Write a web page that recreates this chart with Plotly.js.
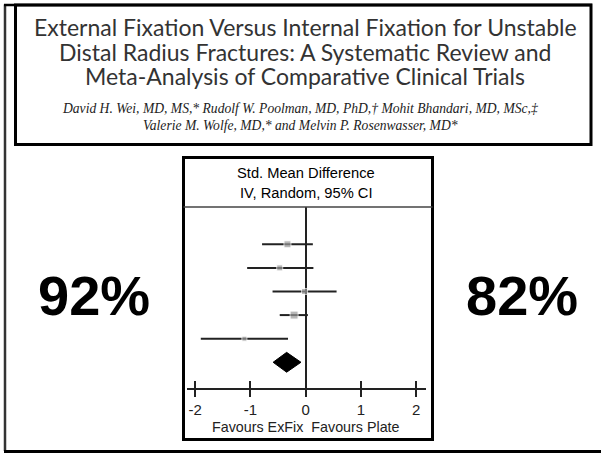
<!DOCTYPE html>
<html>
<head>
<meta charset="utf-8">
<script src="https://cdn.plot.ly/plotly-3.0.1.min.js"></script>
<style>html,body{margin:0;padding:0;background:#fff;}#chart{width:601px;height:453px;}</style>
</head>
<body>
<div id="chart"></div>
<script>
// ---- data ----
const titleLines = [
  "External Fixation Versus Internal Fixation for Unstable",
  "Distal Radius Fractures: A Systematic Review and",
  "Meta-Analysis of Comparative Clinical Trials"
];
const authorLines = [
  "David H. Wei, MD, MS,* Rudolf W. Poolman, MD, PhD,† Mohit Bhandari, MD, MSc,‡",
  "Valerie M. Wolfe, MD,* and Melvin P. Rosenwasser, MD*"
];
const headerLines = ["Std. Mean Difference", "IV, Random, 95% CI"];
const footerLabel = "Favours ExFix  Favours Plate";
const leftPct = "92%";
const rightPct = "82%";

const studyRow = [1, 2, 3, 4, 5];
const studySMD = [-0.33, -0.47, -0.02, -0.21, -1.11];
const studyLow = [-0.79, -1.06, -0.60, -0.47, -1.90];
const studyHigh = [0.13, 0.14, 0.56, 0.04, -0.32];
const studyWeightSize = [7, 6, 6, 8, 5];

const pooledRow = 6;
const pooledSMD = -0.345;
const pooledLow = -0.59;
const pooledHigh = -0.085;

const xTickVals = [-2, -1, 0, 1, 2];
const xTickText = ["-2", "-1", "0", "1", "2"];

// ---- helpers (pixel -> paper) ----
const W = 601, H = 453;
const X = px => px / W;
const Y = py => 1 - py / H;

const sans = "Liberation Sans, Arial, sans-serif";

const ciTrace = {
  type: "scatter", mode: "markers",
  x: studySMD, y: studyRow,
  marker: {symbol: "square", size: studyWeightSize, color: "#9a9a9a"},
  error_x: {
    type: "data", symmetric: false,
    array: studySMD.map((v, i) => studyHigh[i] - v),
    arrayminus: studySMD.map((v, i) => v - studyLow[i]),
    color: "#222", thickness: 2, width: 0
  },
  hoverinfo: "skip", showlegend: false
};

const dh = 0.42;
const diamond = {
  type: "scatter", mode: "lines",
  x: [pooledLow, pooledSMD, pooledHigh, pooledSMD, pooledLow],
  y: [pooledRow, pooledRow - dh, pooledRow, pooledRow + dh, pooledRow],
  fill: "toself", fillcolor: "#000", line: {color: "#000", width: 1},
  hoverinfo: "skip", showlegend: false
};

// dummy trace for second axis (inner ticks)
const tickTrace = {
  type: "scatter", mode: "markers", x: xTickVals, y: xTickVals.map(() => pooledRow),
  xaxis: "x2", marker: {opacity: 0}, hoverinfo: "skip", showlegend: false
};

const annotations = [];
const titleY = [27, 51.5, 76];
titleLines.forEach((t, i) => annotations.push({
  xref: "paper", yref: "paper", x: X(305), y: Y(titleY[i]), xanchor: "center", yanchor: "middle",
  text: t, showarrow: false, borderpad: 0,
  font: {family: "Lato, Open Sans, sans-serif", size: 23, color: "#333"}
}));
const authY = [108, 125];
authorLines.forEach((t, i) => annotations.push({
  xref: "paper", yref: "paper", x: X(300), y: Y(authY[i]), xanchor: "center", yanchor: "middle",
  text: "<i>" + t + "</i>", showarrow: false, borderpad: 0,
  font: {family: "Liberation Serif, Times New Roman, serif", size: 13.6, color: "#222"}
}));
const headY = [173, 193];
headerLines.forEach((t, i) => annotations.push({
  xref: "paper", yref: "paper", x: X(306), y: Y(headY[i]), xanchor: "center", yanchor: "middle",
  text: t, showarrow: false, borderpad: 0, font: {family: sans, size: 14.7, color: "#000"}
}));
annotations.push({
  xref: "paper", yref: "paper", x: X(306), y: Y(427), xanchor: "center", yanchor: "middle",
  text: footerLabel, showarrow: false, borderpad: 0, font: {family: sans, size: 14.3, color: "#222"}
});
annotations.push({
  xref: "paper", yref: "paper", x: X(94), y: Y(295), xanchor: "center", yanchor: "middle",
  text: "<b>" + leftPct + "</b>", showarrow: false, font: {family: sans, size: 56, color: "#000"}
});
annotations.push({
  xref: "paper", yref: "paper", x: X(522), y: Y(295), xanchor: "center", yanchor: "middle",
  text: "<b>" + rightPct + "</b>", showarrow: false, font: {family: sans, size: 56, color: "#000"}
});

const line = (x0, y0, x1, y1, w, c) => ({type: "line", xref: "paper", yref: "paper",
  x0: X(x0), y0: Y(y0), x1: X(x1), y1: Y(y1), line: {width: w, color: c || "#000"}});
const rect = (x0, y0, x1, y1, w) => ({type: "rect", xref: "paper", yref: "paper",
  x0: X(x0), y0: Y(y0), x1: X(x1), y1: Y(y1), line: {width: w, color: "#000"}, fillcolor: "rgba(0,0,0,0)"});

const shapes = [
  line(5, 4.5, 5, 451, 2.5, "#333"),
  line(4, 5, 592, 5, 2.5, "#000"),
  line(4, 451.5, 601, 451.5, 3, "#000"),
  rect(15.5, 5, 591, 144.5, 3),
  rect(183.5, 157.5, 432.5, 439.5, 3),
  line(183.5, 207, 432.5, 207, 1.5, "#444")
];

const xRange = [-2.15, 2.18];
const layout = {
  width: W, height: H,
  margin: {l: 0, r: 0, t: 0, b: 0},
  paper_bgcolor: "#fff", plot_bgcolor: "rgba(0,0,0,0)",
  showlegend: false,
  xaxis: {
    domain: [X(187), X(426)], range: xRange, anchor: "y",
    tickmode: "array", tickvals: xTickVals, ticktext: xTickText,
    ticks: "outside", ticklen: 7, tickwidth: 2, tickcolor: "#222",
    showline: true, linewidth: 2, linecolor: "#222",
    zeroline: true, zerolinecolor: "#222", zerolinewidth: 2,
    showgrid: false, fixedrange: true,
    tickfont: {family: sans, size: 15, color: "#222"}
  },
  xaxis2: {
    domain: [X(187), X(426)], range: xRange, anchor: "y", overlaying: "x", side: "bottom",
    tickmode: "array", tickvals: xTickVals,
    ticks: "inside", ticklen: 7, tickwidth: 2, tickcolor: "#222",
    showticklabels: false, showline: false, zeroline: false, showgrid: false, fixedrange: true
  },
  yaxis: {
    domain: [Y(388), Y(207)], range: [7.09, -0.58],
    showticklabels: false, ticks: "", showgrid: false, zeroline: false, showline: false, fixedrange: true
  },
  shapes: shapes,
  annotations: annotations
};

Plotly.newPlot("chart", [ciTrace, diamond, tickTrace], layout, {displayModeBar: false, staticPlot: true});
</script>
</body>
</html>
